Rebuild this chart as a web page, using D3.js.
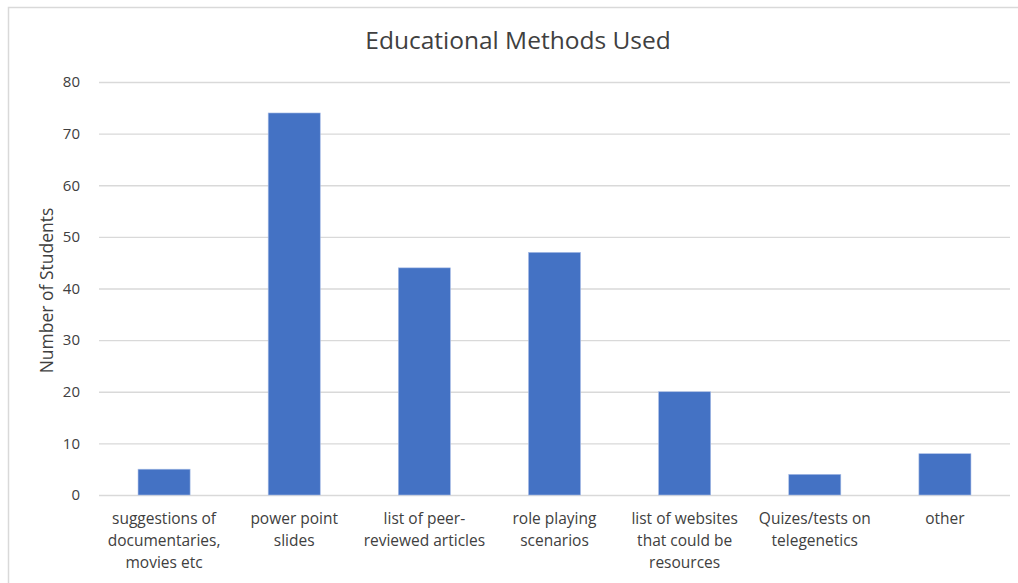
<!DOCTYPE html>
<html>
<head>
<meta charset="utf-8">
<script src="https://cdn.jsdelivr.net/npm/d3@7"></script>
<style>
  html, body { margin: 0; padding: 0; background: #fff; }
  svg { display: block; }
  text { font-family: "Open Sans", "Noto Sans", sans-serif; fill: #404040; }
</style>
</head>
<body>
<svg id="chart" width="1018" height="583"></svg>
<script>
// Survey responses: which educational methods were used
const categories = [
  ["suggestions of", "documentaries,", "movies etc"],
  ["power point", "slides"],
  ["list of peer-", "reviewed articles"],
  ["role playing", "scenarios"],
  ["list of websites", "that could be", "resources"],
  ["Quizes/tests on", "telegenetics"],
  ["other"]
];
const students = [5, 74, 44, 47, 20, 4, 8];
const yTicks = [0, 10, 20, 30, 40, 50, 60, 70, 80];
const titleText = "Educational Methods Used";
const yAxisTitle = "Number of Students";

const svg = d3.select("#chart");
const W = 1018, H = 583;
const plot = { left: 99, right: 1010, top: 82, bottom: 495 };

// chart area frame (runs off the right and bottom edges)
svg.append("rect")
  .attr("x", 8.5).attr("y", 7.5)
  .attr("width", W + 20).attr("height", H + 20)
  .attr("fill", "#fff").attr("stroke", "#d9d9d9").attr("stroke-width", 1.5);

const x = d3.scaleBand()
  .domain(d3.range(categories.length))
  .range([plot.left, plot.right])
  .paddingInner(0.6).paddingOuter(0.3);

const y = d3.scaleLinear().domain([0, 80]).range([plot.bottom, plot.top]);

// horizontal gridlines + tick labels
const yAxis = d3.axisLeft(y).tickValues(yTicks).tickSize(-(plot.right - plot.left)).tickPadding(19);
const gy = svg.append("g").attr("transform", `translate(${plot.left},0)`).call(yAxis);
gy.select(".domain").remove();
gy.selectAll(".tick line").attr("stroke", "#d9d9d9").attr("stroke-width", 1.3);
gy.selectAll(".tick text")
  .attr("font-size", 15).attr("fill", "#333")
  .style("font-family", '"Open Sans", "Noto Sans", sans-serif');

// bars
svg.append("g").selectAll("rect")
  .data(students)
  .join("rect")
  .attr("x", (d, i) => x(i))
  .attr("y", d => y(d))
  .attr("width", x.bandwidth())
  .attr("height", d => y(0) - y(d))
  .attr("fill", "#4472c4")
  .attr("stroke", "#a9bde6").attr("stroke-width", 0.6);

// category labels (wrapped lines)
const xl = svg.append("g");
categories.forEach((lines, i) => {
  const t = xl.append("text")
    .attr("text-anchor", "middle")
    .attr("font-size", 15.5)
    .attr("fill", "#333")
    .attr("x", x(i) + x.bandwidth() / 2)
    .attr("y", 524);
  lines.forEach((ln, k) => {
    t.append("tspan")
      .attr("x", x(i) + x.bandwidth() / 2)
      .attr("dy", k === 0 ? 0 : 22)
      .text(ln);
  });
});

// title
svg.append("text")
  .attr("x", 518).attr("y", 49)
  .attr("text-anchor", "middle")
  .attr("font-size", 24.5)
  .attr("fill", "#222")
  .text(titleText);

// y axis title
svg.append("text")
  .attr("transform", `translate(53,${(plot.top + plot.bottom) / 2 + 2}) rotate(-90)`)
  .attr("text-anchor", "middle")
  .attr("font-size", 17.5)
  .attr("fill", "#333")
  .text(yAxisTitle);
</script>
</body>
</html>
